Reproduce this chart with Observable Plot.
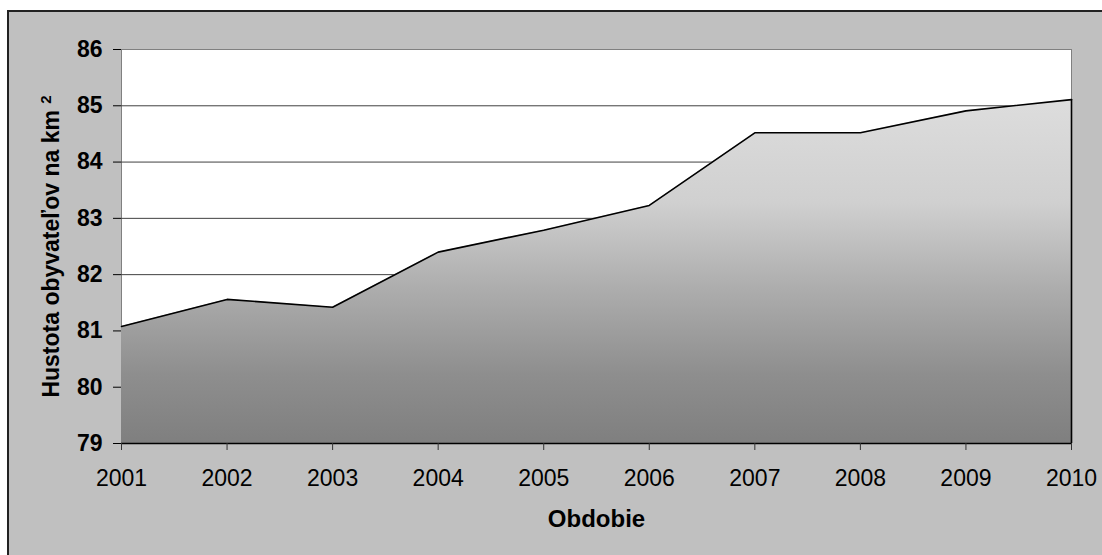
<!DOCTYPE html>
<html>
<head>
<meta charset="utf-8">
<script src="https://cdn.jsdelivr.net/npm/d3@7"></script>
<script src="https://cdn.jsdelivr.net/npm/@observablehq/plot@0.6"></script>
<style>
  html, body { margin: 0; padding: 0; background: #ffffff; }
  #chart { position: relative; width: 1102px; height: 555px; overflow: hidden; background: #ffffff; }
  /* grey chart panel with its dark outline */
  #chart::before {
    content: ""; position: absolute; left: 7px; top: 10px; right: -20px; bottom: -20px;
    background: #c0c0c0; border: 2px solid #222222;
  }
  #chart svg { position: absolute; left: 0; top: 0; }
</style>
</head>
<body>
<div id="chart"></div>
<script>
// Population density (inhabitants per km²) by year
const years  = [2001, 2002, 2003, 2004, 2005, 2006, 2007, 2008, 2009, 2010];
const values = [81.08, 81.56, 81.42, 82.40, 82.79, 83.23, 84.52, 84.52, 84.91, 85.11];
const yTicks = [79, 80, 81, 82, 83, 84, 85, 86];
const gridValues = [80, 81, 82, 83, 84, 85];
const xTitle = "Obdobie";
const yTitle = "Hustota obyvateľov na km";
const yTitleSup = "2";

const data = years.map((year, i) => ({year, value: values[i]}));
const last = data[data.length - 1];
const yMin = yTicks[0];

// vertical grey gradient used to fill the area
const gradientDefs = () => {
  const defs = d3.create("svg:defs");
  const g = defs.append("linearGradient")
    .attr("id", "densityFill")
    .attr("x1", 0).attr("y1", 0).attr("x2", 0).attr("y2", 1);
  [[0, "#dddddd"], [0.3, "#d0d0d0"], [0.55, "#adadad"], [0.8, "#8e8e8e"], [1, "#7f7f7f"]]
    .forEach(([o, c]) => g.append("stop").attr("offset", o).attr("stop-color", c));
  return defs.node();
};

const chart = Plot.plot({
  width: 1102,
  height: 555,
  marginLeft: 121,
  marginTop: 49,
  marginRight: 31,
  marginBottom: 112,
  style: {background: "transparent", fontFamily: "'Liberation Sans', Arial, sans-serif", color: "#000"},
  x: {domain: [years[0], years[years.length - 1]]},
  y: {domain: [yTicks[0], yTicks[yTicks.length - 1]]},
  marks: [
    gradientDefs,
    Plot.frame({fill: "#ffffff", stroke: "#808080"}),
    Plot.ruleY(gridValues, {stroke: "#404040", strokeWidth: 1}),
    Plot.areaY(data, {x: "year", y1: yMin, y2: "value", fill: "url(#densityFill)"}),
    Plot.lineY(data, {x: "year", y: "value", stroke: "#000", strokeWidth: 1.6}),
    Plot.ruleX([last], {x: "year", y1: yMin, y2: "value", stroke: "#000", strokeWidth: 1.6}),
    Plot.ruleY([yMin], {stroke: "#000", strokeWidth: 1.6}),
    Plot.axisY({
      ticks: yTicks, tickSize: 8, tickPadding: 11, tickFormat: d => String(d),
      fontSize: 23, fontWeight: "bold", label: null, stroke: "#000"
    }),
    Plot.axisX({
      ticks: years, tickSize: 7, tickPadding: 19, tickFormat: d => String(d),
      fontSize: 23, label: null, stroke: "#333"
    }),
    Plot.text([xTitle], {
      text: d => d, frameAnchor: "bottom", lineAnchor: "middle", dy: 76,
      fontSize: 24, fontWeight: "bold"
    }),
    Plot.text([yTitle], {
      text: d => d, frameAnchor: "left", textAnchor: "middle", lineAnchor: "middle",
      rotate: -90, dx: -70, fontSize: 23, fontWeight: "bold", className: "y-title"
    })
  ]
});

// add the raised "2" of km² to the vertical axis title
d3.select(chart).selectAll("text")
  .filter(function () { return this.textContent === yTitle; })
  .each(function () {
    const t = d3.select(this);
    t.text(yTitle + " ");
    t.append("tspan")
      .attr("font-size", 15)
      .attr("dy", "-0.55em")
      .text(yTitleSup);
  });

document.getElementById("chart").appendChild(chart);
</script>
</body>
</html>
